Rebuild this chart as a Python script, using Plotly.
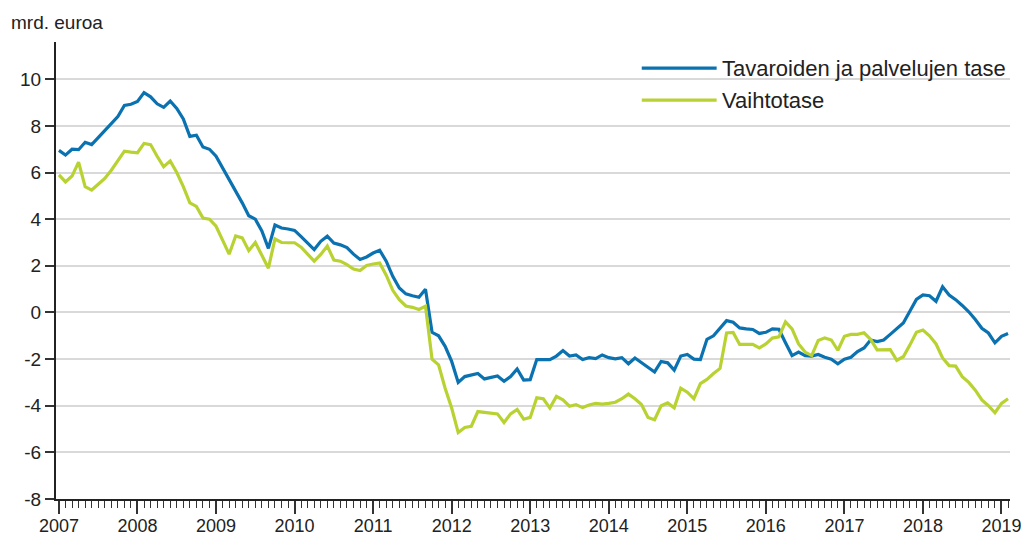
import plotly.graph_objects as go

years = list(range(2007, 2020))
months = list(range(146))  # monthly index, 0 = Jan 2007 ... 145 = Feb 2019

tavarat_palvelut = [
    6.95, 6.75, 7.0, 6.98, 7.3, 7.2, 7.5, 7.8, 8.15, 8.4, 8.88, 8.93,
    9.05, 9.43, 9.25, 8.95, 8.8, 9.07, 8.75, 8.3, 7.55, 7.6, 7.1, 7.0,
    6.7, 6.2, 5.7, 5.25, 4.7, 4.15, 4.0, 3.5, 2.75, 3.75, 3.62, 3.58,
    3.52, 3.25, 2.98, 2.7, 3.05, 3.27, 2.98, 2.9, 2.78, 2.5, 2.27, 2.38,
    2.55, 2.67, 2.2, 1.55, 1.05, 0.8, 0.72, 0.65, 1.0, -0.85, -1.0, -1.45,
    -2.1, -3.0, -2.75, -2.7, -2.62, -2.85, -2.78, -2.72, -2.95, -2.75, -2.42, -2.9,
    -2.88, -2.02, -2.02, -2.02, -1.87, -1.63, -1.87, -1.82, -2.02, -1.94, -1.98, -1.82,
    -1.94, -1.99, -1.94, -2.2, -1.95, -2.16, -2.35, -2.55, -2.1, -2.16, -2.47, -1.87,
    -1.8, -2.0, -2.02, -1.15, -1.0, -0.7, -0.35, -0.42, -0.66, -0.7, -0.73, -0.9,
    -0.85, -0.7, -0.72, -1.3, -1.85, -1.7, -1.85, -1.87, -1.8, -1.92, -2.0, -2.2,
    -2.0, -1.92, -1.68, -1.52, -1.18, -1.25, -1.18, -0.94, -0.7, -0.45, 0.05, 0.56,
    0.75, 0.72, 0.48, 1.1, 0.75, 0.55, 0.3, 0.03, -0.3, -0.68, -0.88, -1.3,
    -1.02, -0.9,
]

vaihtotase = [
    5.9, 5.6, 5.85, 6.45, 5.4, 5.25, 5.5, 5.75, 6.1, 6.5, 6.92, 6.88,
    6.85, 7.25, 7.2, 6.7, 6.25, 6.5, 6.0, 5.4, 4.7, 4.55, 4.05, 4.0,
    3.7, 3.1, 2.5, 3.28, 3.2, 2.65, 3.0, 2.45, 1.9, 3.15, 3.0, 2.99,
    2.99, 2.8, 2.5, 2.2, 2.49, 2.85, 2.25, 2.2, 2.05, 1.86, 1.8, 2.02,
    2.08, 2.12, 1.6, 0.95, 0.55, 0.28, 0.22, 0.13, 0.27, -2.0, -2.25, -3.25,
    -4.1, -5.15, -4.93, -4.88, -4.25, -4.28, -4.32, -4.35, -4.72, -4.35, -4.16, -4.58,
    -4.5, -3.66, -3.7, -4.1, -3.6, -3.75, -4.02, -3.95, -4.08, -3.97, -3.9, -3.93,
    -3.9, -3.85, -3.7, -3.5, -3.7, -3.95, -4.5, -4.6, -4.0, -3.88, -4.09, -3.25,
    -3.42, -3.7, -3.05, -2.87, -2.62, -2.4, -0.88, -0.86, -1.37, -1.37, -1.37, -1.52,
    -1.35, -1.1, -1.05, -0.4, -0.7, -1.35, -1.7, -1.85, -1.2, -1.09, -1.18, -1.62,
    -1.02, -0.94, -0.94, -0.87, -1.15, -1.6, -1.6, -1.59, -2.05, -1.9, -1.4, -0.85,
    -0.75, -1.0, -1.35, -1.95, -2.28, -2.3, -2.75, -3.0, -3.33, -3.75, -4.0, -4.3,
    -3.9, -3.7,
]

series_names = ["Tavaroiden ja palvelujen tase", "Vaihtotase"]
series_colors = ["#0a72b0", "#b9d232"]
y_ticks = [-8, -6, -4, -2, 0, 2, 4, 6, 8, 10]

FONT = "Liberation Sans, Arial, sans-serif"
TXT = "#222222"

fig = go.Figure()
for name, vals, col in zip(series_names, [tavarat_palvelut, vaihtotase], series_colors):
    fig.add_trace(go.Scatter(
        x=months, y=vals, mode="lines", name=name,
        line=dict(color=col, width=3.2), showlegend=False,
    ))

# manual legend (long line samples as in the reference)
leg_y = [0.943, 0.873]
for name, col, ly in zip(series_names, series_colors, leg_y):
    fig.add_shape(type="line", xref="paper", yref="paper",
                  x0=0.614, x1=0.6925, y0=ly, y1=ly,
                  line=dict(color=col, width=3.2))
    fig.add_annotation(xref="paper", yref="paper", x=0.696, y=ly,
                       text=name, showarrow=False, xanchor="left", yanchor="middle",
                       font=dict(family=FONT, size=22, color=TXT))

fig.add_annotation(xref="paper", yref="paper", x=-0.049, y=1.071,
                   text="mrd. euroa", showarrow=False, xanchor="left", yanchor="top",
                   font=dict(family=FONT, size=19, color=TXT))

# page body has an 8px default margin: size the figure so the page fits the 1033x546 window
fig.update_layout(
    width=1017, height=530,
    margin=dict(l=48, r=15, t=34, b=39),
    paper_bgcolor="white", plot_bgcolor="white",
    font=dict(family=FONT, size=19, color=TXT),
)

fig.update_xaxes(
    range=[-0.45, 145.3],
    tickmode="array", tickvals=[12 * i for i in range(len(years))],
    ticktext=[str(y) for y in years],
    ticks="outside", ticklen=13, tickwidth=1.5, tickcolor="#333333",
    minor=dict(ticks="outside", ticklen=7, tickwidth=1, tickcolor="#333333",
               dtick=1, tick0=0, showgrid=False),
    showgrid=False, zeroline=False,
    showline=True, linecolor="#222222", linewidth=2,
    ticklabelstandoff=-4,
    tickfont=dict(family=FONT, size=18, color=TXT),
    automargin=False,
)
fig.update_yaxes(
    range=[-8, 11.6],
    tickmode="array", tickvals=y_ticks, ticktext=[str(v) for v in y_ticks],
    ticks="outside", ticklen=9, tickwidth=1.5, tickcolor="#333333",
    showgrid=True, gridcolor="#d9d9d9", gridwidth=2,
    zeroline=False,
    showline=True, linecolor="#222222", linewidth=2,
    tickfont=dict(family=FONT, size=19, color=TXT),
    automargin=False,
)

fig.write_html("out.html")
